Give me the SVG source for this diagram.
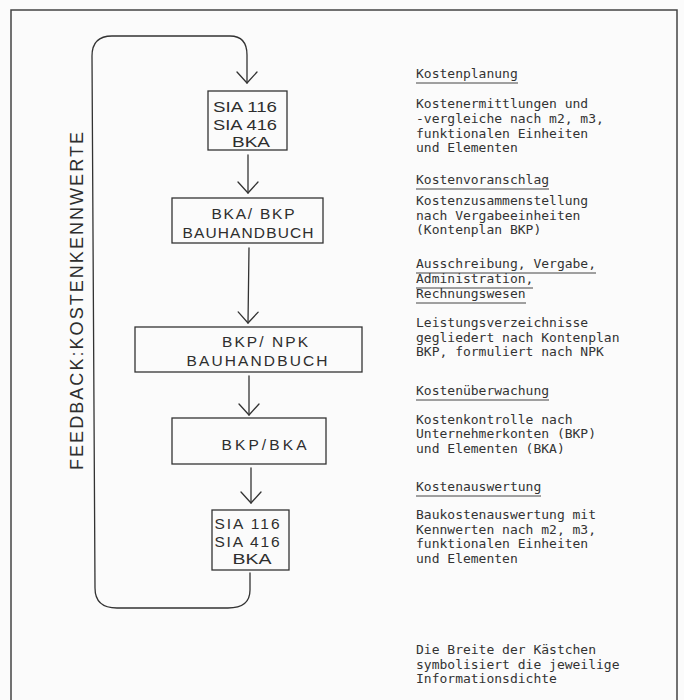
<svg xmlns="http://www.w3.org/2000/svg" width="684" height="700" viewBox="0 0 684 700">
<defs>
<style>
.ln{fill:none;stroke:#333;stroke-width:1.3;stroke-linecap:round;stroke-linejoin:round}
.bx{fill:none;stroke:#333;stroke-width:1.3}
.hand{font-family:"Liberation Sans","DejaVu Sans",sans-serif;font-size:15.5px;fill:#2e2e2e;text-anchor:middle}
.mono{font-family:"DejaVu Sans Mono","Liberation Mono",monospace;font-size:13px;fill:#333}
.ul{stroke:#444;stroke-width:1}
</style>
<marker id="v" viewBox="-12 -11 14 22" refX="0" refY="0" markerWidth="14" markerHeight="22" markerUnits="userSpaceOnUse" orient="auto" overflow="visible">
<path d="M-11,-10 L0,0 L-11,10" fill="none" stroke="#333" stroke-width="1.3" stroke-linecap="round" stroke-linejoin="round"/>
</marker>
</defs>
<rect x="0" y="0" width="684" height="700" fill="#fbfbfb"/>
<rect x="11" y="10" width="666" height="710" fill="none" stroke="#444" stroke-width="1.5"/>

<g id="connectors">
<path class="ln" marker-end="url(#v)" d="M250,573 L250,590 Q250,608 228,608 L117,608 Q95,608 95,588 L92,56 Q92,36 112,36 L230,36 Q247,36 247,55 L247,83"/>
<path class="ln" marker-end="url(#v)" d="M248,155 L248,193"/>
<path class="ln" marker-end="url(#v)" d="M249,248 L248,323"/>
<path class="ln" marker-end="url(#v)" d="M249,376 L249,415"/>
<path class="ln" marker-end="url(#v)" d="M251,468 L251,503"/>
</g>

<g id="feedback-label">
<text class="hand" transform="translate(83,301) rotate(-90)" textLength="338" lengthAdjust="spacing" style="font-size:18px">FEEDBACK:KOSTENKENNWERTE</text>
</g>

<g id="node-sia-top">
<rect class="bx" x="208" y="91" width="79" height="59"/>
<text class="hand" x="245" y="112" textLength="64" lengthAdjust="spacingAndGlyphs">SIA 116</text>
<text class="hand" x="245" y="129.5" textLength="64" lengthAdjust="spacingAndGlyphs">SIA 416</text>
<text class="hand" x="251" y="147" textLength="38" lengthAdjust="spacingAndGlyphs">BKA</text>
</g>

<g id="node-bka-bkp">
<rect class="bx" x="172" y="198" width="151" height="45"/>
<text class="hand" x="253" y="219" textLength="83" lengthAdjust="spacing">BKA/ BKP</text>
<text class="hand" x="248" y="238" textLength="131" lengthAdjust="spacing">BAUHANDBUCH</text>
</g>

<g id="node-bkp-npk">
<rect class="bx" x="135" y="327" width="227" height="45"/>
<text class="hand" x="265" y="347" textLength="86" lengthAdjust="spacing">BKP/ NPK</text>
<text class="hand" x="257" y="366" textLength="141" lengthAdjust="spacing">BAUHANDBUCH</text>
</g>

<g id="node-bkp-bka">
<rect class="bx" x="172" y="418" width="154" height="46"/>
<text class="hand" x="264" y="450" textLength="85" lengthAdjust="spacing">BKP/BKA</text>
</g>

<g id="node-sia-bottom">
<rect class="bx" x="212" y="510" width="77" height="60"/>
<text class="hand" x="247" y="529" textLength="65" lengthAdjust="spacing">SIA 116</text>
<text class="hand" x="247" y="546.5" textLength="65" lengthAdjust="spacing">SIA 416</text>
<text class="hand" x="252" y="564" textLength="39" lengthAdjust="spacingAndGlyphs">BKA</text>
</g>

<g id="legend">
<text class="mono" x="416" y="78">Kostenplanung</text>
<line class="ul" x1="416" y1="83" x2="518" y2="83"/>
<text class="mono" x="416" y="108">Kostenermittlungen und</text>
<text class="mono" x="416" y="123">-vergleiche nach m2, m3,</text>
<text class="mono" x="416" y="138">funktionalen Einheiten</text>
<text class="mono" x="416" y="152">und Elementen</text>

<text class="mono" x="416" y="184">Kostenvoranschlag</text>
<line class="ul" x1="416" y1="189" x2="549" y2="189"/>
<text class="mono" x="416" y="205">Kostenzusammenstellung</text>
<text class="mono" x="416" y="220">nach Vergabeeinheiten</text>
<text class="mono" x="416" y="234">(Kontenplan BKP)</text>

<text class="mono" x="416" y="268">Ausschreibung, Vergabe,</text>
<line class="ul" x1="416" y1="273" x2="596" y2="273"/>
<text class="mono" x="416" y="283">Administration,</text>
<line class="ul" x1="416" y1="288" x2="533" y2="288"/>
<text class="mono" x="416" y="298">Rechnungswesen</text>
<line class="ul" x1="416" y1="303" x2="526" y2="303"/>
<text class="mono" x="416" y="327">Leistungsverzeichnisse</text>
<text class="mono" x="416" y="342">gegliedert nach Kontenplan</text>
<text class="mono" x="416" y="356">BKP, formuliert nach NPK</text>

<text class="mono" x="416" y="395">Kostenüberwachung</text>
<line class="ul" x1="416" y1="400" x2="549" y2="400"/>
<text class="mono" x="416" y="424">Kostenkontrolle nach</text>
<text class="mono" x="416" y="438">Unternehmerkonten (BKP)</text>
<text class="mono" x="416" y="453">und Elementen (BKA)</text>

<text class="mono" x="416" y="491">Kostenauswertung</text>
<line class="ul" x1="416" y1="496" x2="541" y2="496"/>
<text class="mono" x="416" y="519">Baukostenauswertung mit</text>
<text class="mono" x="416" y="534">Kennwerten nach m2, m3,</text>
<text class="mono" x="416" y="548">funktionalen Einheiten</text>
<text class="mono" x="416" y="563">und Elementen</text>

<text class="mono" x="416" y="654">Die Breite der Kästchen</text>
<text class="mono" x="416" y="669">symbolisiert die jeweilige</text>
<text class="mono" x="416" y="683">Informationsdichte</text>
</g>
</svg>
